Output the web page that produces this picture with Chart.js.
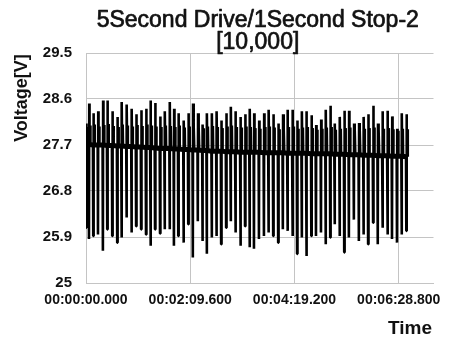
<!DOCTYPE html>
<html>
<head>
<meta charset="utf-8">
<script src="https://cdn.jsdelivr.net/npm/chart.js@4.4.0/dist/chart.umd.min.js"></script>
<style>
  html, body { margin: 0; padding: 0; background: #fff; }
  #wrap { width: 451px; height: 343px; }
</style>
</head>
<body>
<div id="wrap"><canvas id="chart" width="451" height="343"></canvas></div>
<script>
// --- DATA ---
const titleLines = ['5Second Drive/1Second Stop-2', '[10,000]'];
const yAxisTitle = 'Voltage[V]';
const xAxisTitle = 'Time';

const xTickValues = [0, 129.6, 259.2, 388.8];
const xTickLabels = ['00:00:00.000', '00:02:09.600', '00:04:19.200', '00:06:28.800'];
const yTickValues = [25, 25.9, 26.8, 27.7, 28.6, 29.5];
const yTickLabels = ['25', '25.9', '26.8', '27.7', '28.6', '29.5'];

// seconds at which each drive/stop transient happens
const spikeTimes = [
  0, 3.7, 9.0, 14.9, 21.0, 26.4, 32.6, 38.8, 44.2, 50.4, 56.6, 62.3, 68.5, 74.6, 80.1, 85.8, 92.0, 97.8,
  104.0, 109.3, 114.7, 121.3, 127.1, 132.8, 139.0, 144.8, 150.1, 156.3, 162.2, 168.0, 174.2, 179.9, 185.7, 191.9, 197.7,
  203.4, 208.8, 215.0, 221.2, 226.9, 232.7, 238.9, 244.7, 250.4, 256.6, 262.4, 268.2, 273.9, 280.1, 285.9, 292.1, 297.9, 303.6,
  309.1, 315.3, 321.0, 326.8, 333.0, 339.2, 345.0, 350.7, 356.9, 362.7, 368.5, 374.7, 380.4, 386.6, 392.4, 398.2
];
const spikeHighs = [
  28.12, 28.51, 28.32, 28.36, 28.57, 28.57, 28.36, 28.25, 28.54, 28.49, 28.41, 28.30, 28.38, 28.41, 28.57, 28.52, 28.26, 28.36,
  28.54, 28.41, 28.32, 28.18, 28.32, 28.51, 28.32, 28.10, 28.32, 28.32, 28.36, 28.18, 28.32, 28.45, 28.36, 28.25, 28.30,
  28.41, 28.32, 28.18, 28.32, 28.39, 28.30, 28.12, 28.30, 28.39, 28.39, 28.18, 28.36, 28.36, 28.28, 28.09, 28.20, 28.39, 28.47,
  28.12, 28.25, 28.37, 28.37, 28.12, 28.13, 28.25, 28.30, 28.47, 28.12, 28.36, 28.37, 28.26, 28.02, 28.32, 28.30
];
const spikeLows = [
  26.08, 25.86, 25.92, 25.95, 25.63, 26.05, 25.92, 25.79, 25.89, 26.28, 25.99, 26.11, 26.05, 25.95, 25.73, 26.05, 25.97, 26.05,
  26.05, 25.73, 25.92, 25.79, 26.15, 25.50, 26.21, 25.82, 25.57, 25.89, 25.92, 25.76, 26.08, 26.21, 25.99, 25.73, 26.11,
  25.70, 25.67, 25.86, 25.92, 25.99, 25.92, 25.79, 26.05, 26.02, 25.92, 25.57, 25.89, 25.53, 25.92, 25.92, 25.99, 25.76, 25.89,
  26.15, 25.92, 25.60, 25.89, 26.24, 25.82, 25.95, 25.76, 26.18, 25.76, 26.08, 25.95, 25.86, 25.79, 25.95, 26.02
];
const stopLevels = [
  28.05, 28.08, 28.10, 28.06, 28.09, 28.11, 28.07, 28.05, 28.10, 28.08, 28.06, 28.09, 28.07, 28.10, 28.08, 28.06, 28.05, 28.08,
  28.07, 28.05, 28.08, 28.04, 28.06, 28.09, 28.05, 28.03, 28.06, 28.07, 28.05, 28.03, 28.06, 28.08, 28.05, 28.04, 28.06,
  28.05, 28.03, 28.02, 28.05, 28.06, 28.04, 28.01, 28.04, 28.05, 28.06, 28.02, 28.04, 28.05, 28.03, 28.00, 28.02, 28.04, 28.05,
  28.00, 28.02, 28.03, 28.04, 28.00, 28.01, 28.02, 28.03, 28.04, 28.00, 28.02, 28.03, 28.01, 27.98, 28.02, 28.01
];
const baseVolts = [
  27.71, 27.71, 27.70, 27.70, 27.70, 27.69, 27.69, 27.68, 27.68, 27.67, 27.67, 27.66, 27.66, 27.65, 27.65, 27.64, 27.63, 27.63,
  27.63, 27.62, 27.62, 27.61, 27.61, 27.60, 27.60, 27.59, 27.59, 27.58, 27.58, 27.58, 27.57, 27.57, 27.57, 27.56, 27.56,
  27.56, 27.56, 27.56, 27.55, 27.55, 27.55, 27.55, 27.55, 27.54, 27.54, 27.54, 27.54, 27.54, 27.53, 27.53, 27.53, 27.53, 27.53,
  27.52, 27.52, 27.52, 27.51, 27.51, 27.51, 27.50, 27.50, 27.50, 27.49, 27.49, 27.49, 27.48, 27.48, 27.48, 27.47
];

// --- BUILD SERIES ---
const tracePoints = [];
spikeTimes.forEach((t, i) => {
  tracePoints.push({ x: t - 0.4, y: baseVolts[i] });
  tracePoints.push({ x: t, y: spikeLows[i] });
  tracePoints.push({ x: t + 0.3, y: spikeHighs[i] });
  tracePoints.push({ x: t + 0.7, y: baseVolts[i] });
  tracePoints.push({ x: t + 1.4, y: stopLevels[i] });
  tracePoints.push({ x: t + 1.8, y: baseVolts[i] });
});
const basePoints = spikeTimes.map((t, i) => ({ x: t, y: baseVolts[i] }));

const GRID = '#c4c4c4';
const INK = '#111';
const FONT = '"Liberation Sans", Arial, sans-serif';

// slightly heavier than regular, like the original gothic font
function heavyText(ctx, text, x, y, w) {
  ctx.lineWidth = w;
  ctx.strokeStyle = INK;
  ctx.lineJoin = 'round';
  ctx.strokeText(text, x, y);
  ctx.fillText(text, x, y);
}

const textPlugin = {
  id: 'textPlugin',
  afterDraw(chart) {
    const { ctx, chartArea } = chart;
    const cx = (chartArea.left + chartArea.right) / 2;
    ctx.save();
    ctx.fillStyle = INK;
    ctx.textAlign = 'center';
    ctx.textBaseline = 'alphabetic';
    ctx.font = '23px ' + FONT;
    heavyText(ctx, titleLines[0], cx - 2, 27, 0.7);
    heavyText(ctx, titleLines[1], cx - 2, 49, 0.7);

    ctx.font = 'bold 18px ' + FONT;
    ctx.translate(27, 98);
    ctx.rotate(-Math.PI / 2);
    ctx.fillText(yAxisTitle, 0, 0);
    ctx.restore();

    ctx.save();
    ctx.fillStyle = INK;
    ctx.font = 'bold 19px ' + FONT;
    ctx.textAlign = 'right';
    ctx.textBaseline = 'alphabetic';
    ctx.fillText(xAxisTitle, 432, 334);
    ctx.restore();
  }
};

new Chart(document.getElementById('chart'), {
  type: 'line',
  data: {
    datasets: [
      {
        label: 'Voltage',
        data: tracePoints,
        borderColor: '#000',
        borderWidth: 2.6,
        borderJoinStyle: 'bevel',
        pointRadius: 0,
        tension: 0,
        fill: false
      },
      {
        label: 'Base',
        data: basePoints,
        borderColor: '#000',
        borderWidth: 5,
        pointRadius: 0,
        tension: 0,
        fill: false
      }
    ]
  },
  options: {
    responsive: false,
    animation: false,
    events: [],
    layout: { padding: { top: 53, right: 16, left: 0, bottom: 0 } },
    plugins: { legend: { display: false }, tooltip: { enabled: false }, title: { display: false } },
    scales: {
      x: {
        type: 'linear',
        min: 0,
        max: 432,
        afterBuildTicks: (scale) => { scale.ticks = xTickValues.map(v => ({ value: v })); },
        afterFit: (scale) => { scale.height = 60; },
        grid: { color: GRID, lineWidth: 1, drawTicks: false },
        border: { color: GRID, width: 1 },
        ticks: {
          color: INK,
          padding: 9,
          maxRotation: 0,
          autoSkip: false,
          font: { family: FONT, size: 14, weight: 'bold' },
          callback: (v) => xTickLabels[xTickValues.indexOf(v)]
        }
      },
      y: {
        min: 25,
        max: 29.5,
        afterBuildTicks: (scale) => { scale.ticks = yTickValues.map(v => ({ value: v })); },
        afterFit: (scale) => { scale.width = 86; },
        grid: { color: GRID, lineWidth: 1, drawTicks: false },
        border: { color: GRID, width: 1 },
        ticks: {
          color: INK,
          padding: 14,
          autoSkip: false,
          font: { family: FONT, size: 15, weight: 'bold' },
          callback: (v) => yTickLabels[yTickValues.indexOf(v)]
        }
      }
    }
  },
  plugins: [textPlugin]
});
</script>
</body>
</html>
